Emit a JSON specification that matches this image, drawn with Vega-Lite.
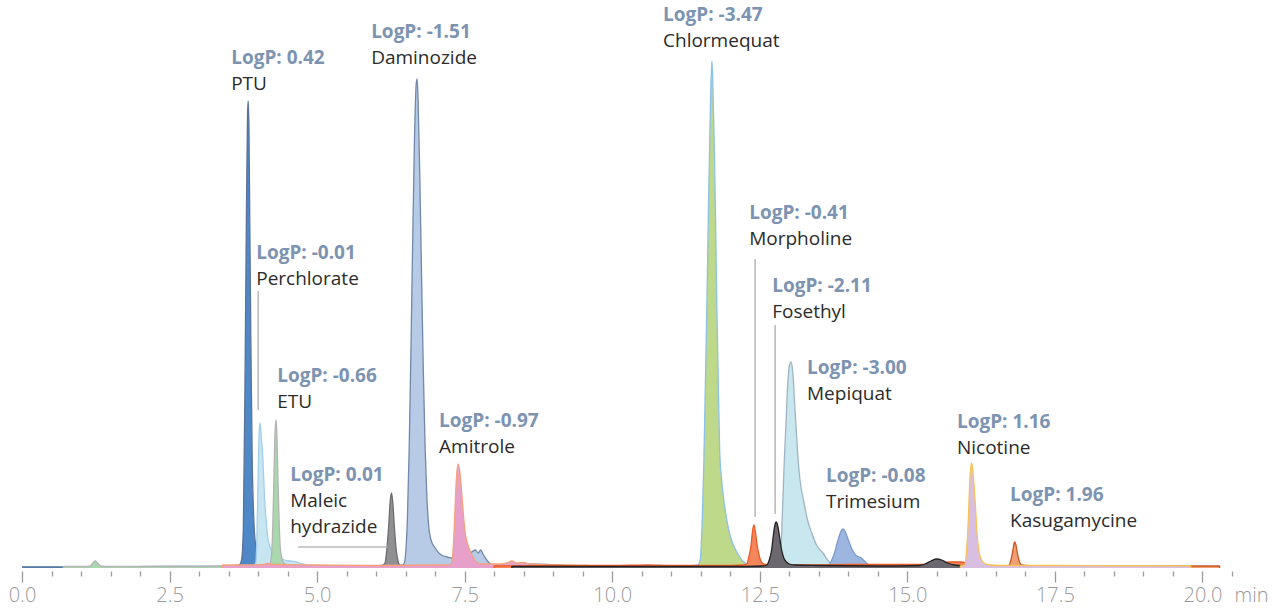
{
  "$schema": "https://vega.github.io/schema/vega-lite/v6.json",
  "width": 1210,
  "height": 568,
  "autosize": {"type": "none"},
  "padding": {"left": 22, "top": 0, "right": 47, "bottom": 41},
  "background": "white",
  "config": {"view": {"stroke": null}},
  "datasets": {
    "traces": [
      {"s":"PTU","t":0,"v":1.2},{"s":"PTU","t":0.7,"v":1.2},{"s":"PTU","t":1.5,"v":1.0},{"s":"PTU","t":2.5,"v":1.5},{"s":"PTU","t":3.2,"v":1.5},{"s":"PTU","t":3.55,"v":2},{"s":"PTU","t":3.68,"v":3},{"s":"PTU","t":3.72,"v":8},{"s":"PTU","t":3.75,"v":40},{"s":"PTU","t":3.78,"v":200},{"s":"PTU","t":3.8,"v":340},{"s":"PTU","t":3.82,"v":450},{"s":"PTU","t":3.832,"v":467},{"s":"PTU","t":3.845,"v":440},{"s":"PTU","t":3.86,"v":340},{"s":"PTU","t":3.88,"v":210},{"s":"PTU","t":3.9,"v":110},{"s":"PTU","t":3.93,"v":45},{"s":"PTU","t":3.97,"v":18},{"s":"PTU","t":4.02,"v":10},{"s":"PTU","t":4.1,"v":6},{"s":"PTU","t":4.2,"v":4},{"s":"PTU","t":4.4,"v":3},{"s":"PTU","t":5.0,"v":2},{"s":"PTU","t":6.0,"v":1.5},{"s":"PTU","t":8.0,"v":1.5},{"s":"PTU","t":10.5,"v":1.2},

      {"s":"Perchlorate","t":2.0,"v":1.5},{"s":"Perchlorate","t":3.0,"v":1.5},{"s":"Perchlorate","t":3.9,"v":2},{"s":"Perchlorate","t":3.96,"v":5},{"s":"Perchlorate","t":3.98,"v":30},{"s":"Perchlorate","t":4.0,"v":90},{"s":"Perchlorate","t":4.02,"v":138},{"s":"Perchlorate","t":4.036,"v":145},{"s":"Perchlorate","t":4.05,"v":135},{"s":"Perchlorate","t":4.08,"v":110},{"s":"Perchlorate","t":4.11,"v":70},{"s":"Perchlorate","t":4.14,"v":45},{"s":"Perchlorate","t":4.18,"v":25},{"s":"Perchlorate","t":4.25,"v":16},{"s":"Perchlorate","t":4.35,"v":11},{"s":"Perchlorate","t":4.45,"v":8},{"s":"Perchlorate","t":4.55,"v":7},{"s":"Perchlorate","t":4.65,"v":6},{"s":"Perchlorate","t":4.75,"v":4},{"s":"Perchlorate","t":4.9,"v":2.5},{"s":"Perchlorate","t":5.5,"v":2},{"s":"Perchlorate","t":6.0,"v":1.5},

      {"s":"ETU","t":0.7,"v":1.5},{"s":"ETU","t":1.1,"v":1.5},{"s":"ETU","t":1.16,"v":2},{"s":"ETU","t":1.2,"v":5},{"s":"ETU","t":1.24,"v":7},{"s":"ETU","t":1.28,"v":5},{"s":"ETU","t":1.33,"v":2},{"s":"ETU","t":1.4,"v":1.5},{"s":"ETU","t":2.0,"v":1.5},{"s":"ETU","t":3.0,"v":1.5},{"s":"ETU","t":4.0,"v":2},{"s":"ETU","t":4.15,"v":2.5},{"s":"ETU","t":4.2,"v":4},{"s":"ETU","t":4.23,"v":15},{"s":"ETU","t":4.25,"v":45},{"s":"ETU","t":4.27,"v":95},{"s":"ETU","t":4.29,"v":140},{"s":"ETU","t":4.307,"v":148},{"s":"ETU","t":4.32,"v":130},{"s":"ETU","t":4.34,"v":80},{"s":"ETU","t":4.36,"v":40},{"s":"ETU","t":4.38,"v":18},{"s":"ETU","t":4.41,"v":8},{"s":"ETU","t":4.45,"v":4},{"s":"ETU","t":4.6,"v":3},{"s":"ETU","t":4.8,"v":2},{"s":"ETU","t":6.0,"v":1.5},

      {"s":"Daminozide","t":5.0,"v":1.5},{"s":"Daminozide","t":6.0,"v":1.5},{"s":"Daminozide","t":6.4,"v":2},{"s":"Daminozide","t":6.47,"v":4},{"s":"Daminozide","t":6.5,"v":15},{"s":"Daminozide","t":6.53,"v":50},{"s":"Daminozide","t":6.56,"v":120},{"s":"Daminozide","t":6.59,"v":220},{"s":"Daminozide","t":6.62,"v":330},{"s":"Daminozide","t":6.65,"v":430},{"s":"Daminozide","t":6.68,"v":485},{"s":"Daminozide","t":6.694,"v":489},{"s":"Daminozide","t":6.71,"v":470},{"s":"Daminozide","t":6.74,"v":390},{"s":"Daminozide","t":6.77,"v":290},{"s":"Daminozide","t":6.8,"v":195},{"s":"Daminozide","t":6.83,"v":120},{"s":"Daminozide","t":6.86,"v":70},{"s":"Daminozide","t":6.89,"v":42},{"s":"Daminozide","t":6.93,"v":28},{"s":"Daminozide","t":7.0,"v":20},{"s":"Daminozide","t":7.08,"v":14},{"s":"Daminozide","t":7.2,"v":11},{"s":"Daminozide","t":7.3,"v":10},{"s":"Daminozide","t":7.45,"v":9},{"s":"Daminozide","t":7.55,"v":11},{"s":"Daminozide","t":7.62,"v":16},{"s":"Daminozide","t":7.68,"v":18},{"s":"Daminozide","t":7.73,"v":15},{"s":"Daminozide","t":7.77,"v":18},{"s":"Daminozide","t":7.82,"v":13},{"s":"Daminozide","t":7.9,"v":6},{"s":"Daminozide","t":7.98,"v":3},{"s":"Daminozide","t":8.3,"v":3},{"s":"Daminozide","t":8.6,"v":4},{"s":"Daminozide","t":8.9,"v":3.5},{"s":"Daminozide","t":9.2,"v":2.5},{"s":"Daminozide","t":10,"v":2},{"s":"Daminozide","t":12,"v":1.5},{"s":"Daminozide","t":14,"v":1.5},{"s":"Daminozide","t":16,"v":1.5},{"s":"Daminozide","t":17.5,"v":1.5},

      {"s":"Maleic hydrazide","t":5.6,"v":1.5},{"s":"Maleic hydrazide","t":6.0,"v":2},{"s":"Maleic hydrazide","t":6.1,"v":2.5},{"s":"Maleic hydrazide","t":6.15,"v":5},{"s":"Maleic hydrazide","t":6.18,"v":18},{"s":"Maleic hydrazide","t":6.21,"v":40},{"s":"Maleic hydrazide","t":6.24,"v":68},{"s":"Maleic hydrazide","t":6.26,"v":75},{"s":"Maleic hydrazide","t":6.28,"v":67},{"s":"Maleic hydrazide","t":6.31,"v":40},{"s":"Maleic hydrazide","t":6.34,"v":18},{"s":"Maleic hydrazide","t":6.37,"v":7},{"s":"Maleic hydrazide","t":6.4,"v":3},{"s":"Maleic hydrazide","t":6.5,"v":2},{"s":"Maleic hydrazide","t":7.0,"v":1.5},

      {"s":"Amitrole","t":3.4,"v":3},{"s":"Amitrole","t":3.8,"v":3},{"s":"Amitrole","t":4.1,"v":3.5},{"s":"Amitrole","t":4.15,"v":4.5},{"s":"Amitrole","t":4.25,"v":3.5},{"s":"Amitrole","t":5.0,"v":3},{"s":"Amitrole","t":6.0,"v":2.5},{"s":"Amitrole","t":7.0,"v":3},{"s":"Amitrole","t":7.2,"v":3},{"s":"Amitrole","t":7.27,"v":4},{"s":"Amitrole","t":7.3,"v":15},{"s":"Amitrole","t":7.33,"v":50},{"s":"Amitrole","t":7.36,"v":90},{"s":"Amitrole","t":7.39,"v":104},{"s":"Amitrole","t":7.42,"v":95},{"s":"Amitrole","t":7.45,"v":75},{"s":"Amitrole","t":7.48,"v":52},{"s":"Amitrole","t":7.51,"v":35},{"s":"Amitrole","t":7.55,"v":24},{"s":"Amitrole","t":7.6,"v":16},{"s":"Amitrole","t":7.65,"v":10},{"s":"Amitrole","t":7.7,"v":6},{"s":"Amitrole","t":7.8,"v":4},{"s":"Amitrole","t":8.1,"v":4},{"s":"Amitrole","t":8.22,"v":5},{"s":"Amitrole","t":8.3,"v":7},{"s":"Amitrole","t":8.38,"v":5},{"s":"Amitrole","t":8.5,"v":5.5},{"s":"Amitrole","t":8.6,"v":4},{"s":"Amitrole","t":9.0,"v":3},{"s":"Amitrole","t":9.6,"v":2.5},

      {"s":"Chlormequat","t":10.3,"v":2},{"s":"Chlormequat","t":11.0,"v":2},{"s":"Chlormequat","t":11.3,"v":2},{"s":"Chlormequat","t":11.45,"v":3},{"s":"Chlormequat","t":11.49,"v":8},{"s":"Chlormequat","t":11.52,"v":40},{"s":"Chlormequat","t":11.55,"v":100},{"s":"Chlormequat","t":11.58,"v":190},{"s":"Chlormequat","t":11.605,"v":268},{"s":"Chlormequat","t":11.63,"v":360},{"s":"Chlormequat","t":11.65,"v":420},{"s":"Chlormequat","t":11.67,"v":480},{"s":"Chlormequat","t":11.69,"v":507},{"s":"Chlormequat","t":11.71,"v":470},{"s":"Chlormequat","t":11.73,"v":418},{"s":"Chlormequat","t":11.75,"v":350},{"s":"Chlormequat","t":11.77,"v":268},{"s":"Chlormequat","t":11.795,"v":190},{"s":"Chlormequat","t":11.82,"v":118},{"s":"Chlormequat","t":11.85,"v":90},{"s":"Chlormequat","t":11.89,"v":68},{"s":"Chlormequat","t":11.95,"v":45},{"s":"Chlormequat","t":12.02,"v":28},{"s":"Chlormequat","t":12.1,"v":17},{"s":"Chlormequat","t":12.16,"v":11},{"s":"Chlormequat","t":12.25,"v":5},{"s":"Chlormequat","t":12.35,"v":3},{"s":"Chlormequat","t":12.6,"v":2},{"s":"Chlormequat","t":13.0,"v":2},

      {"s":"Mepiquat","t":12.5,"v":2},{"s":"Mepiquat","t":12.8,"v":2.5},{"s":"Mepiquat","t":12.84,"v":6},{"s":"Mepiquat","t":12.86,"v":20},{"s":"Mepiquat","t":12.88,"v":50},{"s":"Mepiquat","t":12.91,"v":100},{"s":"Mepiquat","t":12.94,"v":140},{"s":"Mepiquat","t":12.97,"v":180},{"s":"Mepiquat","t":13.0,"v":202},{"s":"Mepiquat","t":13.03,"v":206},{"s":"Mepiquat","t":13.06,"v":195},{"s":"Mepiquat","t":13.09,"v":165},{"s":"Mepiquat","t":13.12,"v":135},{"s":"Mepiquat","t":13.16,"v":100},{"s":"Mepiquat","t":13.2,"v":80},{"s":"Mepiquat","t":13.24,"v":68},{"s":"Mepiquat","t":13.3,"v":50},{"s":"Mepiquat","t":13.38,"v":35},{"s":"Mepiquat","t":13.47,"v":22},{"s":"Mepiquat","t":13.57,"v":15},{"s":"Mepiquat","t":13.65,"v":8},{"s":"Mepiquat","t":13.72,"v":4},{"s":"Mepiquat","t":13.8,"v":3},{"s":"Mepiquat","t":14.2,"v":2},{"s":"Mepiquat","t":15.0,"v":2},

      {"s":"Trimesium","t":13.2,"v":2},{"s":"Trimesium","t":13.6,"v":2},{"s":"Trimesium","t":13.67,"v":3},{"s":"Trimesium","t":13.72,"v":8},{"s":"Trimesium","t":13.77,"v":16},{"s":"Trimesium","t":13.82,"v":27},{"s":"Trimesium","t":13.87,"v":36},{"s":"Trimesium","t":13.91,"v":39},{"s":"Trimesium","t":13.95,"v":36},{"s":"Trimesium","t":14.0,"v":28},{"s":"Trimesium","t":14.06,"v":19},{"s":"Trimesium","t":14.12,"v":13},{"s":"Trimesium","t":14.18,"v":11},{"s":"Trimesium","t":14.22,"v":10},{"s":"Trimesium","t":14.27,"v":7},{"s":"Trimesium","t":14.33,"v":4},{"s":"Trimesium","t":14.4,"v":3},{"s":"Trimesium","t":14.6,"v":2},{"s":"Trimesium","t":15.0,"v":2},

      {"s":"Morpholine","t":8.0,"v":2},{"s":"Morpholine","t":9.0,"v":2.5},{"s":"Morpholine","t":10.0,"v":2.5},{"s":"Morpholine","t":10.6,"v":3},{"s":"Morpholine","t":11.0,"v":2.5},{"s":"Morpholine","t":12.0,"v":2.5},{"s":"Morpholine","t":12.22,"v":3},{"s":"Morpholine","t":12.28,"v":4},{"s":"Morpholine","t":12.31,"v":10},{"s":"Morpholine","t":12.35,"v":22},{"s":"Morpholine","t":12.38,"v":38},{"s":"Morpholine","t":12.4,"v":43},{"s":"Morpholine","t":12.42,"v":38},{"s":"Morpholine","t":12.46,"v":21},{"s":"Morpholine","t":12.5,"v":10},{"s":"Morpholine","t":12.54,"v":5},{"s":"Morpholine","t":12.6,"v":3.5},{"s":"Morpholine","t":13.0,"v":3},{"s":"Morpholine","t":14.0,"v":3.5},{"s":"Morpholine","t":15.0,"v":3.5},{"s":"Morpholine","t":15.6,"v":4},{"s":"Morpholine","t":15.7,"v":6},{"s":"Morpholine","t":15.9,"v":6},{"s":"Morpholine","t":16.0,"v":5},{"s":"Morpholine","t":16.05,"v":2},

      {"s":"Fosethyl","t":8.3,"v":1.5},{"s":"Fosethyl","t":9.0,"v":1.5},{"s":"Fosethyl","t":10.0,"v":1.5},{"s":"Fosethyl","t":11.0,"v":1.5},{"s":"Fosethyl","t":12.0,"v":1.5},{"s":"Fosethyl","t":12.55,"v":2},{"s":"Fosethyl","t":12.62,"v":3},{"s":"Fosethyl","t":12.66,"v":8},{"s":"Fosethyl","t":12.7,"v":18},{"s":"Fosethyl","t":12.73,"v":33},{"s":"Fosethyl","t":12.76,"v":44},{"s":"Fosethyl","t":12.78,"v":46},{"s":"Fosethyl","t":12.8,"v":43},{"s":"Fosethyl","t":12.83,"v":33},{"s":"Fosethyl","t":12.86,"v":21},{"s":"Fosethyl","t":12.9,"v":11},{"s":"Fosethyl","t":12.95,"v":6},{"s":"Fosethyl","t":13.0,"v":4},{"s":"Fosethyl","t":13.1,"v":3},{"s":"Fosethyl","t":13.5,"v":2.5},{"s":"Fosethyl","t":14.5,"v":2},{"s":"Fosethyl","t":15.2,"v":2.5},{"s":"Fosethyl","t":15.3,"v":4},{"s":"Fosethyl","t":15.4,"v":7},{"s":"Fosethyl","t":15.5,"v":9},{"s":"Fosethyl","t":15.58,"v":8},{"s":"Fosethyl","t":15.68,"v":5},{"s":"Fosethyl","t":15.8,"v":3},{"s":"Fosethyl","t":16.0,"v":2},{"s":"Fosethyl","t":16.3,"v":1.5},

      {"s":"Kasugamycine","t":16.5,"v":2},{"s":"Kasugamycine","t":16.72,"v":2.5},{"s":"Kasugamycine","t":16.75,"v":7},{"s":"Kasugamycine","t":16.78,"v":15},{"s":"Kasugamycine","t":16.81,"v":25},{"s":"Kasugamycine","t":16.82,"v":26},{"s":"Kasugamycine","t":16.84,"v":23},{"s":"Kasugamycine","t":16.87,"v":13},{"s":"Kasugamycine","t":16.9,"v":6},{"s":"Kasugamycine","t":16.94,"v":3},{"s":"Kasugamycine","t":17.0,"v":2.5},{"s":"Kasugamycine","t":17.5,"v":2},{"s":"Kasugamycine","t":18.5,"v":1.8},{"s":"Kasugamycine","t":19.45,"v":2},{"s":"Kasugamycine","t":20.29,"v":2},

      {"s":"Nicotine","t":15.9,"v":2},{"s":"Nicotine","t":15.97,"v":3},{"s":"Nicotine","t":16.0,"v":15},{"s":"Nicotine","t":16.03,"v":45},{"s":"Nicotine","t":16.06,"v":90},{"s":"Nicotine","t":16.09,"v":105},{"s":"Nicotine","t":16.12,"v":90},{"s":"Nicotine","t":16.15,"v":65},{"s":"Nicotine","t":16.18,"v":35},{"s":"Nicotine","t":16.21,"v":18},{"s":"Nicotine","t":16.25,"v":9},{"s":"Nicotine","t":16.3,"v":5},{"s":"Nicotine","t":16.4,"v":3},{"s":"Nicotine","t":16.6,"v":2.5},{"s":"Nicotine","t":17.5,"v":2.5},{"s":"Nicotine","t":18.5,"v":2.2},{"s":"Nicotine","t":19.8,"v":2.2}
    ],
    "labels": [
      {"t":3.544,"v":510,"txt":"LogP: 0.42","kind":"logp"},{"t":3.544,"v":484,"txt":"PTU","kind":"name"},
      {"t":5.915,"v":536,"txt":"LogP: -1.51","kind":"logp"},{"t":5.915,"v":510,"txt":"Daminozide","kind":"name"},
      {"t":10.86,"v":553,"txt":"LogP: -3.47","kind":"logp"},{"t":10.86,"v":527,"txt":"Chlormequat","kind":"name"},
      {"t":3.968,"v":315,"txt":"LogP: -0.01","kind":"logp"},{"t":3.968,"v":289,"txt":"Perchlorate","kind":"name"},
      {"t":4.323,"v":192,"txt":"LogP: -0.66","kind":"logp"},{"t":4.323,"v":166,"txt":"ETU","kind":"name"},
      {"t":4.544,"v":93,"txt":"LogP: 0.01","kind":"logp"},{"t":4.544,"v":67,"txt":"Maleic","kind":"name"},{"t":4.544,"v":41,"txt":"hydrazide","kind":"name"},
      {"t":7.066,"v":147,"txt":"LogP: -0.97","kind":"logp"},{"t":7.066,"v":121,"txt":"Amitrole","kind":"name"},
      {"t":12.32,"v":355,"txt":"LogP: -0.41","kind":"logp"},{"t":12.32,"v":329,"txt":"Morpholine","kind":"name"},
      {"t":12.71,"v":282,"txt":"LogP: -2.11","kind":"logp"},{"t":12.71,"v":256,"txt":"Fosethyl","kind":"name"},
      {"t":13.3,"v":200,"txt":"LogP: -3.00","kind":"logp"},{"t":13.3,"v":174,"txt":"Mepiquat","kind":"name"},
      {"t":13.62,"v":92,"txt":"LogP: -0.08","kind":"logp"},{"t":13.62,"v":66,"txt":"Trimesium","kind":"name"},
      {"t":15.84,"v":146,"txt":"LogP: 1.16","kind":"logp"},{"t":15.84,"v":120,"txt":"Nicotine","kind":"name"},
      {"t":16.74,"v":73,"txt":"LogP: 1.96","kind":"logp"},{"t":16.74,"v":47,"txt":"Kasugamycine","kind":"name"}
    ],
    "leaders": [
      {"t":4.002,"v":277,"t2":4.002,"v2":158},
      {"t":12.42,"v":309,"t2":12.42,"v2":51},
      {"t":12.76,"v":243,"t2":12.76,"v2":54},
      {"t":4.679,"v":21,"t2":6.19,"v2":21}
    ]
  },
  "encoding": {
    "x": {
      "field": "t", "type": "quantitative",
      "scale": {"domain": [0, 20.5], "nice": false, "zero": false},
      "axis": {
        "values": [0,0.5,1,1.5,2,2.5,3,3.5,4,4.5,5,5.5,6,6.5,7,7.5,8,8.5,9,9.5,10,10.5,11,11.5,12,12.5,13,13.5,14,14.5,15,15.5,16,16.5,17,17.5,18,18.5,19,19.5,20,20.5],
        "format": ".1f",
        "labelExpr": "datum.value % 2.5 === 0 ? datum.label : ''",
        "domain": false, "grid": false, "offset": 3,
        "tickSize": {"condition": {"test": "datum.value % 2.5 === 0", "value": 11}, "value": 5},
        "tickColor": "#9a9a9a", "tickWidth": 1.3,
        "labelColor": "#9a9a9a", "labelFontSize": 20, "labelFont": "Open Sans", "labelFontWeight": 300,
        "labelPadding": 3, "labelFlush": false, "labelOverlap": false,
        "title": "min", "titleX": 1212, "titleY": 24, "titleAlign": "left", "titleBaseline": "middle",
        "titleFont": "Open Sans", "titleFontSize": 20, "titleFontWeight": 300, "titleColor": "#9a9a9a"
      }
    },
    "y": {"field": "v", "type": "quantitative", "scale": {"domain": [0, 568], "nice": false, "zero": false}, "axis": null}
  },
  "layer": [
    {
      "data": {"name": "traces"},
      "mark": {"type": "area", "interpolate": "monotone", "clip": true, "strokeWidth": 1.3, "fillOpacity": 1, "strokeJoin": "round"},
      "encoding": {
        "y": {"field": "v", "type": "quantitative", "stack": null},
        "y2": {"datum": -5},
        "fill": {
          "field": "s", "type": "nominal", "legend": null,
          "scale": {
            "domain": ["PTU","Perchlorate","ETU","Daminozide","Maleic hydrazide","Amitrole","Chlormequat","Mepiquat","Trimesium","Morpholine","Fosethyl","Kasugamycine","Nicotine"],
            "range": ["#4e88c6","#c8e6f2","#a9d8ac","#b7cae6","#909092","#e6a0ca","#bfd98a","#c8e7ef","#9db6e0","#f5855b","#6b686f","#f0a070","#d8bfe1"]
          }
        },
        "stroke": {
          "field": "s", "type": "nominal", "legend": null,
          "scale": {
            "domain": ["PTU","Perchlorate","ETU","Daminozide","Maleic hydrazide","Amitrole","Chlormequat","Mepiquat","Trimesium","Morpholine","Fosethyl","Kasugamycine","Nicotine"],
            "range": ["#5b7398","#a3cfea","#b4b4b4","#7189aa","#6e6e70","#f5a27a","#8cc0e8","#9fb4c4","#7a9ad0","#ec5a25","#232323","#c8582a","#f5c35a"]
          }
        }
      }
    },
    {
      "data": {"name": "leaders"},
      "mark": {"type": "rule", "color": "#b8b8b8", "strokeWidth": 1.5},
      "encoding": {
        "x2": {"field": "t2"},
        "y2": {"field": "v2"}
      }
    },
    {
      "data": {"name": "labels"},
      "transform": [{"filter": "datum.kind === 'logp'"}],
      "mark": {"type": "text", "align": "left", "baseline": "middle", "font": "Open Sans", "fontSize": 19, "fontWeight": 700, "color": "#7d93b2"},
      "encoding": {"text": {"field": "txt"}}
    },
    {
      "data": {"name": "labels"},
      "transform": [{"filter": "datum.kind === 'name'"}],
      "mark": {"type": "text", "align": "left", "baseline": "middle", "font": "Open Sans", "fontSize": 19, "fontWeight": 400, "color": "#2b2b2b"},
      "encoding": {"text": {"field": "txt"}}
    }
  ]
}
